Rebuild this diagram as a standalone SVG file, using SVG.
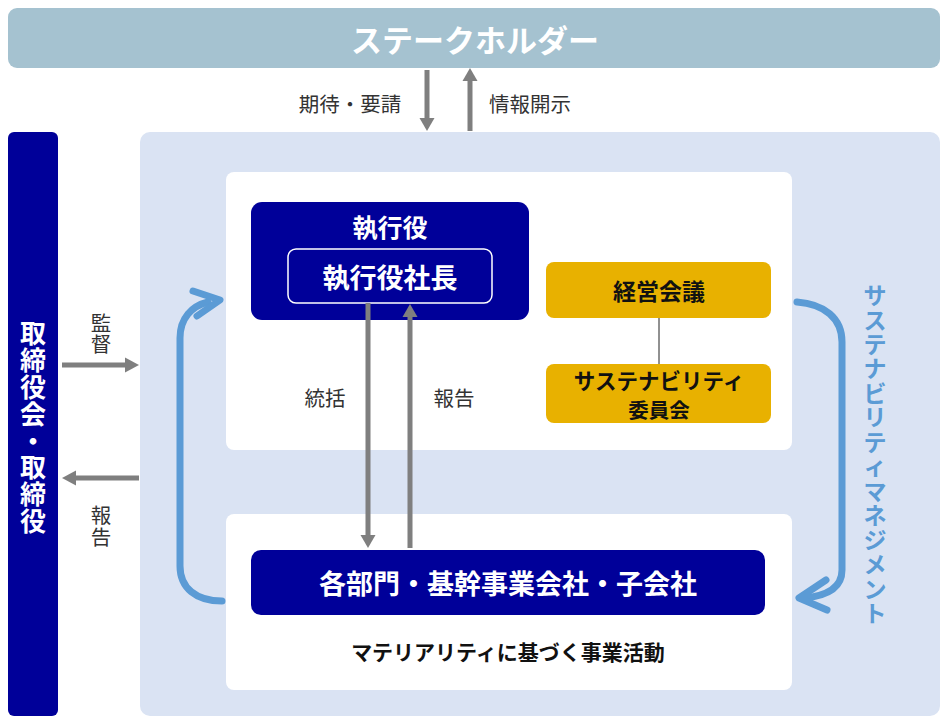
<svg xmlns="http://www.w3.org/2000/svg" width="950" height="720" viewBox="0 0 950 720">
<style>
.jp{font-family:"Noto Sans CJK JP","Noto Sans",sans-serif;}
.b{font-weight:bold;}
.w{fill:#ffffff;}
.k{fill:#111111;}
.lbl{font-family:"Noto Sans CJK JP","Noto Sans",sans-serif;font-size:20.5px;fill:#333333;}
.navy{fill:#000099;}
.yel{fill:#e8b100;}
.garr{stroke:#7f7f7f;stroke-width:5;fill:none;}
.gh{fill:#7f7f7f;}
.barr{stroke:#5b9bd5;stroke-width:7;fill:none;stroke-linecap:round;stroke-linejoin:round;}
</style>
<rect width="950" height="720" fill="#ffffff"/>

<g id="stakeholder">
<rect x="8" y="8" width="932" height="60" rx="9" fill="#a5c2d0"/>
<text x="475" y="38" class="jp b w" font-size="31" text-anchor="middle" dominant-baseline="central">ステークホルダー</text>
</g>

<g id="panel">
<rect x="140" y="132" width="800" height="584" rx="10" fill="#dae3f3"/>
<rect x="226" y="172" width="566" height="278" rx="8" fill="#ffffff"/>
<rect x="226" y="514" width="566" height="176" rx="8" fill="#ffffff"/>
</g>

<g id="board">
<rect x="8" y="132" width="50" height="584" rx="6" class="navy"/>
<text class="jp b w" font-size="26" text-anchor="middle" dominant-baseline="central" x="33 33 33 33 33 33 33 33" y="331 358 385 412 439 465 492 519">取締役会・取締役</text>
</g>

<g id="executives">
<rect x="251" y="202" width="278" height="118" rx="11" class="navy"/>
<text x="390" y="226" class="jp b w" font-size="25" text-anchor="middle" dominant-baseline="central">執行役</text>
<rect x="288" y="249" width="204" height="54" rx="8" fill="none" stroke="#ffffff" stroke-width="1.5"/>
<text x="390" y="276" class="jp b w" font-size="27" text-anchor="middle" dominant-baseline="central">執行役社長</text>
</g>

<g id="mgmt-meeting">
<rect x="546" y="262" width="225" height="56" rx="8" class="yel"/>
<text x="659" y="290" class="jp b k" font-size="23" text-anchor="middle" dominant-baseline="central">経営会議</text>
</g>

<g id="sustainability-committee">
<rect x="546" y="364" width="225" height="59" rx="8" class="yel"/>
<text x="659" y="379" class="jp b k" font-size="21.5" text-anchor="middle" dominant-baseline="central">サステナビリティ</text>
<text x="659" y="409" class="jp b k" font-size="20.5" text-anchor="middle" dominant-baseline="central">委員会</text>
</g>

<g id="divisions">
<rect x="251" y="550" width="514" height="65" rx="10" class="navy"/>
<text x="508" y="582" class="jp b w" font-size="27" text-anchor="middle" dominant-baseline="central">各部門・基幹事業会社・子会社</text>
<text x="508" y="651" class="jp b k" font-size="21" text-anchor="middle" dominant-baseline="central">マテリアリティに基づく事業活動</text>
</g>

<g id="sustainability-label">
<text class="jp b" fill="#5b9bd5" font-size="23" text-anchor="middle" dominant-baseline="central" x="875 875 875 875 875 875 875 875 875 875 875 875 875 875" y="294 318.5 343 367.4 391.8 416.3 440.8 465.2 489.7 514.1 538.6 563 587.5 612">サステナビリティマネジメント</text>
</g>

<g id="connectors">
<line x1="659" y1="318" x2="659" y2="364" stroke="#222222" stroke-width="1"/>
<line x1="427" y1="70" x2="427" y2="119" class="garr"/>
<polygon points="419.5,118 434.5,118 427,131" class="gh"/>
<line x1="470" y1="131" x2="470" y2="80" class="garr"/>
<polygon points="462.5,81 477.5,81 470,68" class="gh"/>
<line x1="62" y1="365" x2="126" y2="365" class="garr"/>
<polygon points="125,357.5 125,372.5 139,365" class="gh"/>
<line x1="139" y1="478" x2="75" y2="478" class="garr"/>
<polygon points="76,470.5 76,485.5 62,478" class="gh"/>
<line x1="368" y1="303" x2="368" y2="536" class="garr"/>
<polygon points="360.5,535 375.5,535 368,548" class="gh"/>
<line x1="410" y1="548" x2="410" y2="316" class="garr"/>
<polygon points="402.5,317 417.5,317 410,304" class="gh"/>
<path d="M222,601 C196,601 180,588 180,566 L180,338 C180,318 192,306 208,302" class="barr"/>
<polyline points="193,291 220,300 197,316" class="barr"/>
<path d="M797,302 C824,304 842,318 842,342 L842,570 C842,588 826,596 804,598" class="barr"/>
<polyline points="826,580 799,598 827,610" class="barr"/>
</g>

<g id="labels">
<text x="350" y="103" class="lbl" text-anchor="middle" dominant-baseline="central">期待・要請</text>
<text x="530" y="103" class="lbl" text-anchor="middle" dominant-baseline="central">情報開示</text>
<text class="lbl" text-anchor="middle" dominant-baseline="central" x="101 101" y="322 343">監督</text>
<text class="lbl" text-anchor="middle" dominant-baseline="central" x="101 101" y="514 536">報告</text>
<text x="325" y="397" class="lbl" text-anchor="middle" dominant-baseline="central">統括</text>
<text x="454" y="397" class="lbl" text-anchor="middle" dominant-baseline="central">報告</text>
</g>
</svg>
